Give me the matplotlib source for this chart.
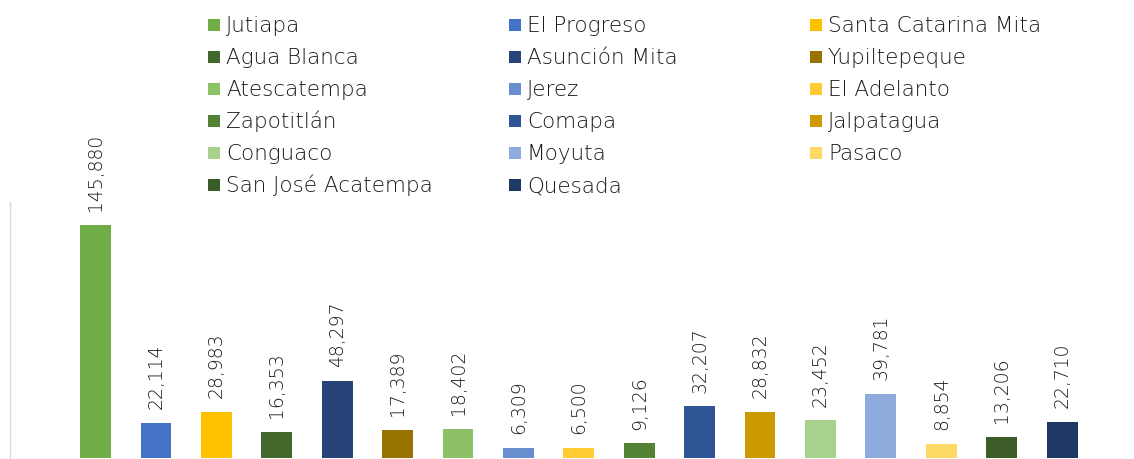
import matplotlib.pyplot as plt
from matplotlib.patches import Rectangle

# Municipal values
municipios = ['Jutiapa', 'El Progreso', 'Santa Catarina Mita', 'Agua Blanca',
              'Asunción Mita', 'Yupiltepeque', 'Atescatempa', 'Jerez',
              'El Adelanto', 'Zapotitlán', 'Comapa', 'Jalpatagua', 'Conguaco',
              'Moyuta', 'Pasaco', 'San José Acatempa', 'Quesada']
valores = [145880, 22114, 28983, 16353, 48297, 17389, 18402, 6309,
           6500, 9126, 32207, 28832, 23452, 39781, 8854, 13206, 22710]
colores = ['#70AD47', '#4472C4', '#FFC000', '#43682B', '#264478', '#997300',
           '#8CC168', '#698ED0', '#FFCD33', '#548235', '#2F5597', '#CC9A00',
           '#A9D18E', '#8FAADC', '#FFD966', '#3B5B27', '#203864']

plt.rcParams['font.family'] = ['DejaVu Sans']

W, H = 1134, 459
fig = plt.figure(figsize=(W / 100, H / 100), dpi=100)

# plot area: left axis line at x=10px, baseline at y=458px, top at y=202px
ax = fig.add_axes([10 / W, 1 / H, 1 - 10 / W, (458 - 202) / H])
x = list(range(len(municipios)))
ax.bar(x, valores, width=0.51, color=colores)
ax.set_xlim(-1.416, 17.19)
ax.set_ylim(0, 160000)

for i, v in zip(x, valores):
    ax.annotate(f'{v:,}', (i, v), xytext=(0, 10), textcoords='offset points',
                rotation=90, ha='center', va='bottom', fontsize=13.5,
                fontweight='light', color='#1A1A1A')

for s in ['top', 'right', 'bottom']:
    ax.spines[s].set_visible(False)
ax.spines['left'].set_color('#D9D9D9')
ax.spines['left'].set_linewidth(1.0)
ax.set_xticks([])
ax.set_yticks([])

# legend, 3 columns laid out row by row like the original
col_x = [208, 509, 810]
row_y0, row_dy = 25, 32
sq = 12
for k, (name, c) in enumerate(zip(municipios, colores)):
    r, col = divmod(k, 3)
    px = col_x[col]
    py = row_y0 + r * row_dy
    fig.add_artist(Rectangle((px / W, 1 - (py + sq / 2) / H), sq / W, sq / H,
                             transform=fig.transFigure, color=c, lw=0))
    fig.text((px + 18) / W, 1 - (py + 7) / H, name, fontsize=15.5,
             fontweight='light', color='#1A1A1A', ha='left', va='baseline')

fig.savefig('out.png', dpi=100)
